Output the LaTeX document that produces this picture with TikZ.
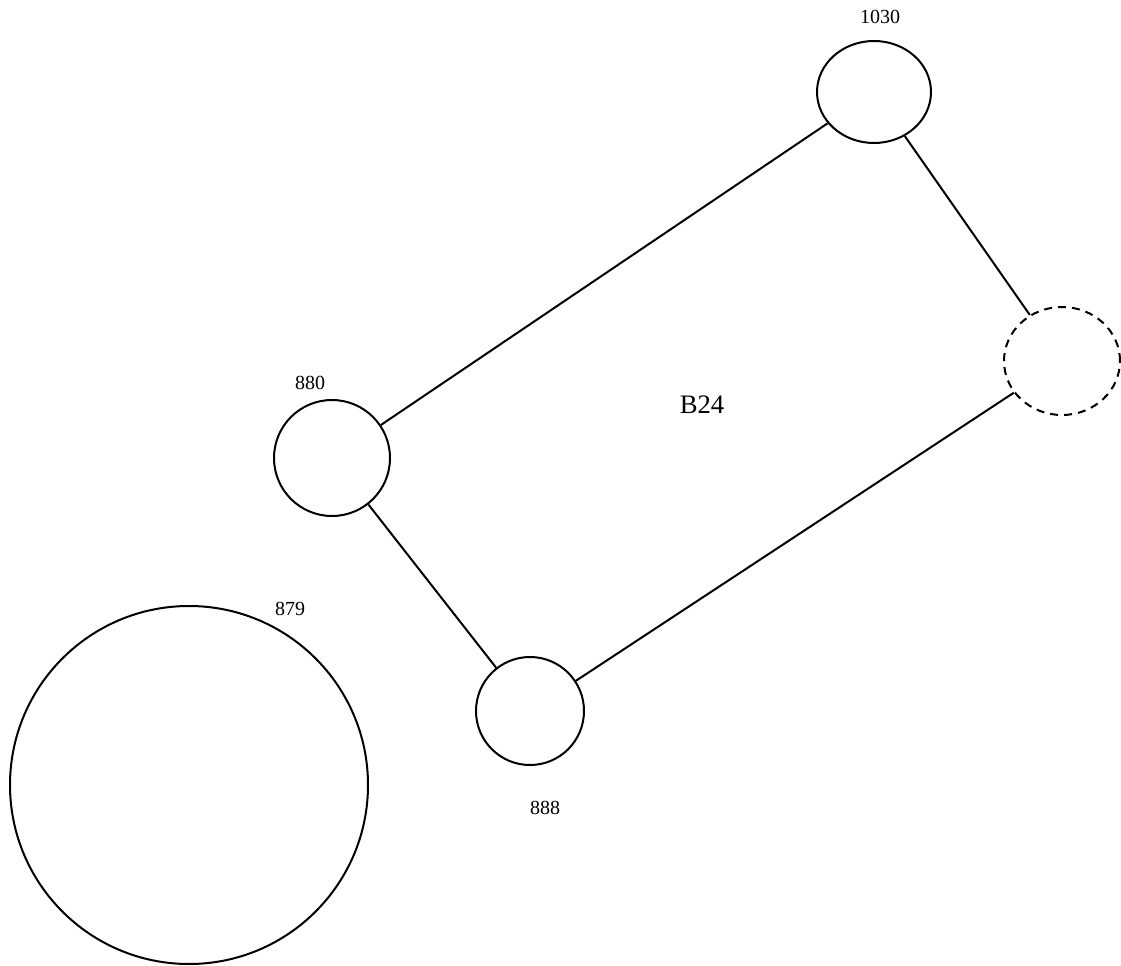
\documentclass[tikz,border=0pt]{standalone}
\usepackage{fontspec}
\setmainfont{Liberation Serif}
\usetikzlibrary{shapes.geometric}
\begin{document}
\begin{tikzpicture}[x=0.75pt,y=-0.75pt,
  vtx/.style={ellipse,draw,line width=1.5pt,inner sep=0pt},
  ghost/.style={vtx,dash pattern=on 6pt off 4.5pt},
  lbl/.style={font=\fontsize{15}{17}\selectfont,inner sep=0pt},
  edge/.style={line width=1.5pt}]
\useasboundingbox (0,0) rectangle (1121,966);
\node[vtx,minimum width=85.5pt,minimum height=76.5pt] (n1030) at (874,92) {};
\node[ghost,minimum width=87pt,minimum height=81pt] (ndash) at (1062,361) {};
\node[vtx,minimum width=87pt,minimum height=87pt] (n880) at (332,458) {};
\node[vtx,minimum width=81pt,minimum height=81pt] (n888) at (530,711) {};
\node[vtx,minimum width=268.5pt,minimum height=268.5pt] (n879) at (189,785) {};
\node[lbl] (l1030) at (880,17) {1030};
\node[lbl] (l880) at (310,383) {880};
\node[lbl] (l888) at (545,808) {888};
\node[lbl] (l879) at (290,609) {879};
\node[font=\fontsize{20}{24}\selectfont,inner sep=0pt] (b24) at (702,405) {B24};
\draw[edge] (n1030) -- (n880);
\draw[edge] (n1030) -- (ndash);
\draw[edge] (ndash) -- (n888);
\draw[edge] (n880) -- (n888);
\end{tikzpicture}
\end{document}
